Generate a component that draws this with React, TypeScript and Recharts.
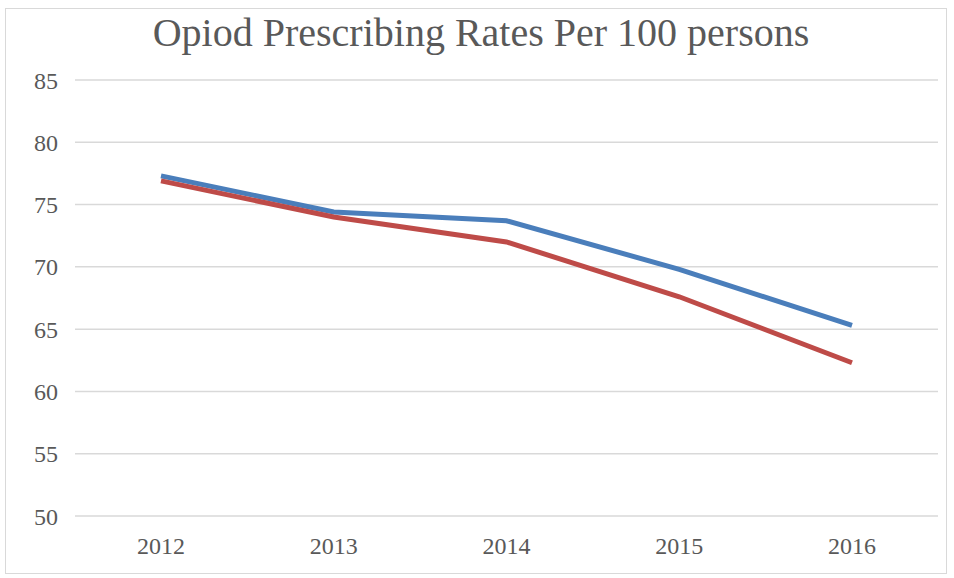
import React from "react";
import { LineChart, Line, XAxis, YAxis, CartesianGrid } from "recharts";

const years = ["2012", "2013", "2014", "2015", "2016"];
const seriesBlue = [77.3, 74.4, 73.7, 69.8, 65.3];
const seriesRed = [76.9, 74.0, 72.0, 67.6, 62.3];
const yTicks = [50, 55, 60, 65, 70, 75, 80, 85];

const data = years.map((y, i) => ({ year: y, blue: seriesBlue[i], red: seriesRed[i] }));

const FONT = "'Liberation Serif', serif";

export default function App() {
  return (
    <div style={{ position: "absolute", left: 0, top: 0, width: 954, height: 578, background: "#fff" }}>
      <div
        style={{
          position: "absolute",
          left: 5,
          top: 8,
          width: 942,
          height: 566,
          border: "1px solid #d9d9d9",
          boxSizing: "border-box",
        }}
      />
      <div
        style={{
          position: "absolute",
          left: 0,
          top: 11,
          width: 962,
          textAlign: "center",
          fontFamily: FONT,
          fontSize: 40,
          color: "#595959",
          lineHeight: "44px",
        }}
      >
        Opiod Prescribing Rates Per 100 persons
      </div>
      <div style={{ position: "absolute", left: 0, top: 0 }}>
        <LineChart width={954} height={578} data={data} margin={{ top: 80, right: 16, bottom: 32, left: 35 }}>
          <CartesianGrid vertical={false} stroke="#d9d9d9" strokeWidth={1.5} />
          <XAxis
            dataKey="year"
            axisLine={false}
            tickLine={false}
            tickSize={0}
            tickMargin={21}
            padding={{ left: 86, right: 86 }}
            tick={{ fill: "#595959", fontSize: 24, fontFamily: FONT }}
            interval={0}
          />
          <YAxis
            domain={[50, 85]}
            ticks={yTicks}
            axisLine={false}
            tickLine={false}
            tickSize={0}
            tickMargin={17}
            width={40}
            tick={{ fill: "#595959", fontSize: 24, fontFamily: FONT }}
          />
          <Line
            dataKey="blue"
            stroke="#4a7ebb"
            strokeWidth={5}
            dot={false}
            isAnimationActive={false}
          />
          <Line
            dataKey="red"
            stroke="#be4b48"
            strokeWidth={5}
            dot={false}
            isAnimationActive={false}
          />
        </LineChart>
      </div>
    </div>
  );
}
